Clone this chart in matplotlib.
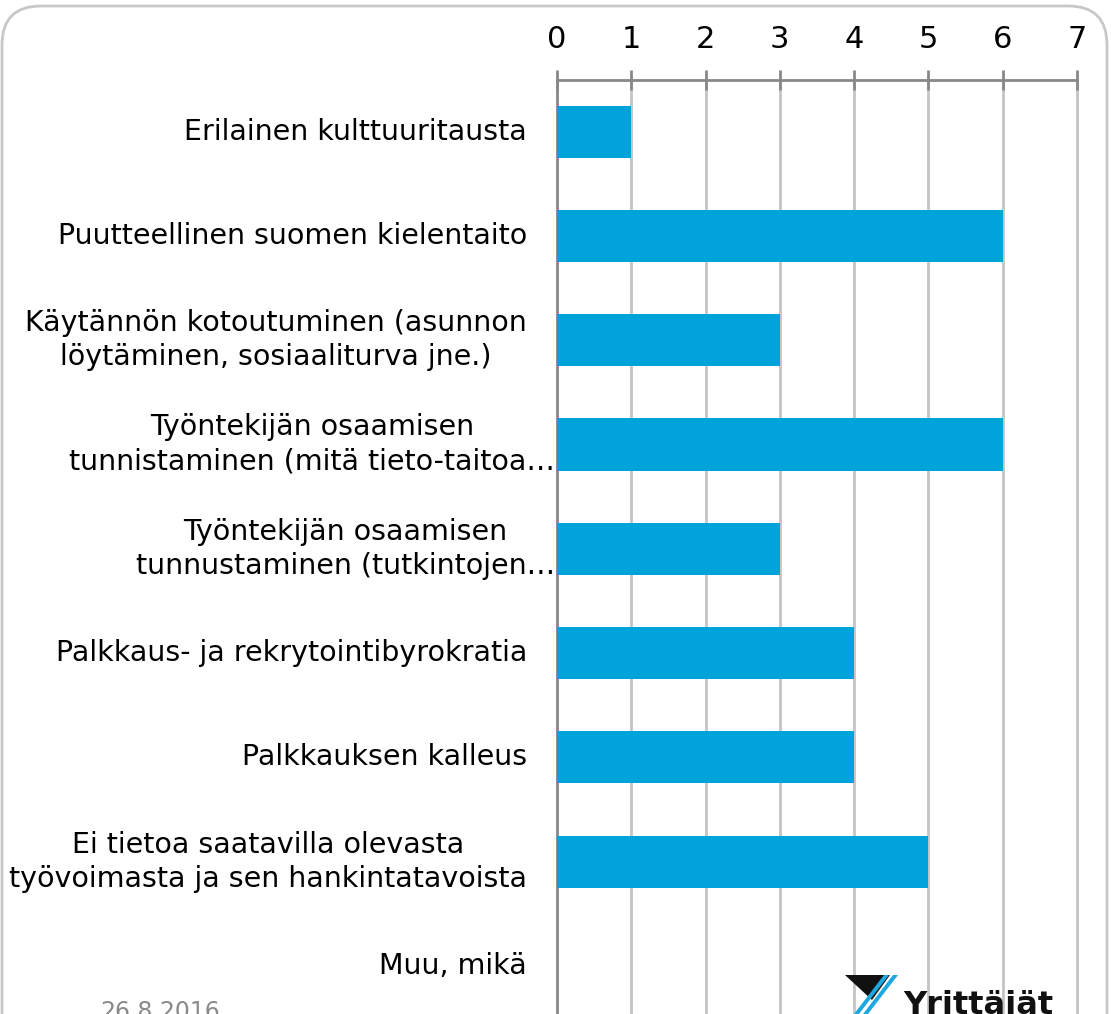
import matplotlib
matplotlib.use("Agg")
import matplotlib.pyplot as plt
from matplotlib.patches import FancyBboxPatch, Polygon

categories = [
    "Erilainen kulttuuritausta",
    "Puutteellinen suomen kielentaito",
    "Käytännön kotoutuminen (asunnon\nlöytäminen, sosiaaliturva jne.)",
    "Työntekijän osaamisen\ntunnistaminen (mitä tieto-taitoa…",
    "Työntekijän osaamisen\ntunnustaminen (tutkintojen…",
    "Palkkaus- ja rekrytointibyrokratia",
    "Palkkauksen kalleus",
    "Ei tietoa saatavilla olevasta\ntyövoimasta ja sen hankintatavoista",
    "Muu, mikä",
]
values = [1, 6, 3, 6, 3, 4, 4, 5, 0]
xticks = [0, 1, 2, 3, 4, 5, 6, 7]

W, H = 1111, 1014
fig = plt.figure(figsize=(W / 100, H / 100), dpi=100)
fig.patch.set_facecolor("white")

# rounded frame
frame = FancyBboxPatch((2 / W, -0.2), (W - 6) / W, 1.2 - 6 / H,
                       boxstyle="round,pad=0,rounding_size=0.035",
                       transform=fig.transFigure, facecolor="none",
                       edgecolor="#c8c8c8", linewidth=2, mutation_aspect=W / H)
fig.patches.append(frame)

left, right = 557 / W, 1077 / W
top = 1 - 79.5 / H
bottom = 1 - 1018 / H
ax = fig.add_axes([left, bottom, right - left, top - bottom])

y = list(range(len(categories)))
ax.barh(y, values, height=0.5, color="#00A3DA", zorder=3)
ax.set_xlim(0, 7)
ax.set_ylim(len(categories) - 0.5, -0.5)

ax.xaxis.tick_top()
ax.set_xticks(xticks)
ax.set_xticklabels([str(t) for t in xticks], fontsize=22)
ax.tick_params(axis="x", direction="inout", length=14, width=2, color="#888888",
               pad=11, labelcolor="black")
ax.set_yticks([])
for t in xticks[1:]:
    ax.axvline(t, color="#c4c4c4", linewidth=2, zorder=0, clip_on=False)
for s in ["right", "bottom"]:
    ax.spines[s].set_visible(False)
ax.spines["top"].set_color("#888888")
ax.spines["top"].set_linewidth(2)
ax.spines["left"].set_color("#888888")
ax.spines["left"].set_linewidth(2)

# category labels
for i, lab in enumerate(categories):
    xoff = -0.03 if "…" in lab else -30 / 74.3
    ax.text(xoff, i, lab, ha="right", va="center", multialignment="center",
            fontsize=20.5, color="black", transform=ax.transData, clip_on=False,
            linespacing=1.28)

# date footer
fig.text(100 / W, 1 - 1000 / H, "26.8.2016", fontsize=17, color="#8a8a8a",
         ha="left", va="top")

# logo
tri = Polygon([[845 / W, 1 - 975 / H], [890 / W, 1 - 975 / H], [872 / W, 1 - 1000 / H]],
              closed=True, transform=fig.transFigure, facecolor="#111111",
              edgecolor="none")
fig.patches.append(tri)
for dx in (0, 9):
    stripe = Polygon([[(884 + dx) / W, 1 - 975 / H], [(889 + dx) / W, 1 - 975 / H],
                      [(859 + dx) / W, 1 - 1014 / H], [(854 + dx) / W, 1 - 1014 / H]],
                     closed=True, transform=fig.transFigure, facecolor="#1fa8e0",
                     edgecolor="none")
    fig.patches.append(stripe)
fig.text(903 / W, 1 - 990 / H, "Yrittäjät", fontsize=23, fontweight="bold",
         color="#111111", ha="left", va="top")

fig.savefig("out.png", dpi=100, facecolor="white")
